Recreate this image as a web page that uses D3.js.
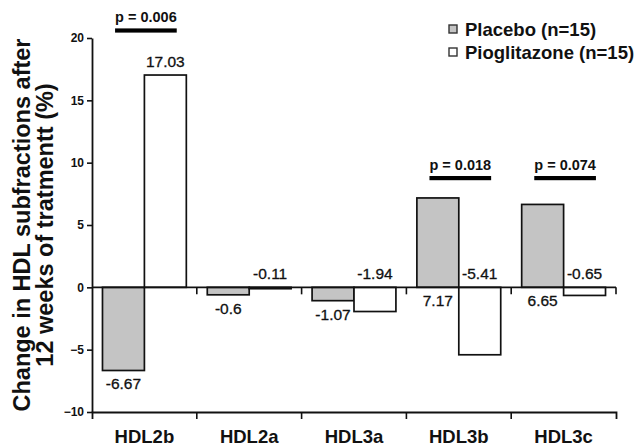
<!DOCTYPE html>
<html>
<head>
<meta charset="utf-8">
<script src="https://cdn.jsdelivr.net/npm/d3@7/dist/d3.min.js"></script>
<style>
  html, body { margin: 0; padding: 0; background: #fff; }
  svg { display: block; font-family: "Liberation Sans", Arial, Helvetica, sans-serif; }
</style>
</head>
<body>
<svg id="chart" width="634" height="446"></svg>
<script>
// HDL subfraction change after 12 weeks, by treatment group
const categories = ["HDL2b", "HDL2a", "HDL3a", "HDL3b", "HDL3c"];
const seriesNames = ["Placebo (n=15)", "Pioglitazone (n=15)"];
const placebo = [-6.67, -0.6, -1.07, 7.17, 6.65];
const pioglitazone = [17.03, -0.11, -1.94, -5.41, -0.65];
const yTicks = [-10, -5, 0, 5, 10, 15, 20];

// significance annotations between groups
const pCategories = ["HDL2b", "HDL3b", "HDL3c"];
const pLabels = ["p = 0.006", "p = 0.018", "p = 0.074"];

// layout
const plot = { left: 92, right: 616, top: 38, bottom: 412 };
const pBarLevel = [20.77, 8.93, 8.93];   // y value where each p underline sits
const fills = ["#c4c4c4", "#ffffff"];
const ink = "#111";
const fontFamily = "Liberation Sans, Arial, sans-serif";

const svg = d3.select("#chart");
svg.append("rect").attr("width", 634).attr("height", 446).attr("fill", "#fff");

const y = d3.scaleLinear().domain([-10, 20]).range([plot.bottom, plot.top]);
const x = d3.scaleBand().domain(categories).range([plot.left, plot.right]).padding(0);
const xs = d3.scaleBand().domain(seriesNames).range([0, x.bandwidth()])
  .paddingInner(0).paddingOuter(0.25);

const rows = categories.map((c, i) => ({
  cat: c,
  vals: [
    { s: seriesNames[0], v: placebo[i], k: 0 },
    { s: seriesNames[1], v: pioglitazone[i], k: 1 }
  ]
}));

// bars
const groups = svg.append("g").selectAll("g").data(rows).join("g")
  .attr("transform", d => `translate(${x(d.cat)},0)`);

groups.selectAll("rect").data(d => d.vals).join("rect")
  .attr("x", d => xs(d.s))
  .attr("width", xs.bandwidth())
  .attr("y", d => y(Math.max(0, d.v)))
  .attr("height", d => Math.abs(y(d.v) - y(0)))
  .attr("fill", d => fills[d.k])
  .attr("stroke", ink)
  .attr("stroke-width", 1.7);

// value labels: placebo below, pioglitazone above
groups.selectAll("text.val").data(d => d.vals).join("text")
  .attr("class", "val")
  .attr("x", d => xs(d.s) + xs.bandwidth() / 2)
  .attr("y", d => d.k === 0 ? y(Math.min(0, d.v)) + 19 : y(Math.max(0, d.v)) - 8)
  .attr("text-anchor", "middle")
  .attr("font-size", "15.5px")
  .attr("fill", ink)
  .attr("stroke", ink)
  .attr("stroke-width", 0.3)
  .text(d => d.v);

// zero line with separators between categories
svg.append("line")
  .attr("x1", plot.left).attr("x2", plot.right)
  .attr("y1", y(0)).attr("y2", y(0))
  .attr("stroke", ink).attr("stroke-width", 1.8);

const bounds = categories.slice(1).map(c => x(c)).concat([plot.right]);
svg.append("g").selectAll("line").data(bounds).join("line")
  .attr("x1", d => d).attr("x2", d => d)
  .attr("y1", y(0)).attr("y2", y(0) + 7)
  .attr("stroke", ink).attr("stroke-width", 1.6);

// y axis
const yAxis = svg.append("g")
  .attr("transform", `translate(${plot.left},0)`)
  .call(d3.axisLeft(y).tickValues(yTicks).tickSize(5).tickSizeOuter(0).tickPadding(3));
yAxis.select(".domain").attr("stroke", ink).attr("stroke-width", 1.8);
yAxis.selectAll(".tick line").attr("stroke", ink).attr("stroke-width", 1.6);
yAxis.selectAll(".tick text")
  .attr("font-size", "12px").attr("font-weight", "bold").attr("fill", ink)
  .attr("font-family", fontFamily);

// bottom axis
const xAxis = svg.append("g")
  .attr("transform", `translate(0,${plot.bottom})`)
  .call(d3.axisBottom(x).tickSizeInner(0).tickSizeOuter(7).tickPadding(18));
xAxis.select(".domain").attr("stroke", ink).attr("stroke-width", 1.8);
xAxis.selectAll(".tick text")
  .attr("font-size", "18.5px").attr("font-weight", "bold").attr("fill", ink)
  .attr("font-family", fontFamily);
svg.append("g").selectAll("line").data(bounds.slice(0, -1)).join("line")
  .attr("x1", d => d).attr("x2", d => d)
  .attr("y1", plot.bottom).attr("y2", plot.bottom + 7)
  .attr("stroke", ink).attr("stroke-width", 1.6);

// y axis title (two lines)
const titleLines = ["Change in HDL subfractions after", "12 weeks of tratmentt (%)"];
const midY = (plot.top + plot.bottom) / 2;
svg.append("g").selectAll("text").data(titleLines).join("text")
  .attr("transform", (d, i) => `translate(${29.5 + i * 23.5},${midY}) rotate(-90)`)
  .attr("text-anchor", "middle")
  .attr("font-size", "23.5px")
  .attr("font-weight", "bold")
  .attr("fill", ink)
  .text(d => d);

// p-value annotations with thick underline
pCategories.forEach((c, i) => {
  const cx = x(c) + x.bandwidth() / 2 + 1.5;
  const barY = y(pBarLevel[i]);
  const t = svg.append("text")
    .attr("x", cx).attr("y", barY - 6)
    .attr("text-anchor", "middle")
    .attr("font-size", "14.5px").attr("font-weight", "bold")
    .attr("fill", ink)
    .text(pLabels[i]);
  const w = t.node().getComputedTextLength();
  svg.append("rect")
    .attr("x", cx - w / 2).attr("y", barY)
    .attr("width", w).attr("height", 4.2)
    .attr("fill", "#000");
});

// legend
const legend = svg.append("g").attr("transform", "translate(449,25)");
const li = legend.selectAll("g").data(seriesNames).join("g")
  .attr("transform", (d, i) => `translate(0,${i * 23})`);
li.append("rect")
  .attr("width", 8).attr("height", 8)
  .attr("fill", (d, i) => fills[i])
  .attr("stroke", "#333").attr("stroke-width", 1.4);
li.append("text")
  .attr("x", 16).attr("y", 10.5)
  .attr("font-size", "18.5px").attr("font-weight", "bold")
  .attr("fill", ink)
  .text(d => d);
</script>
</body>
</html>
